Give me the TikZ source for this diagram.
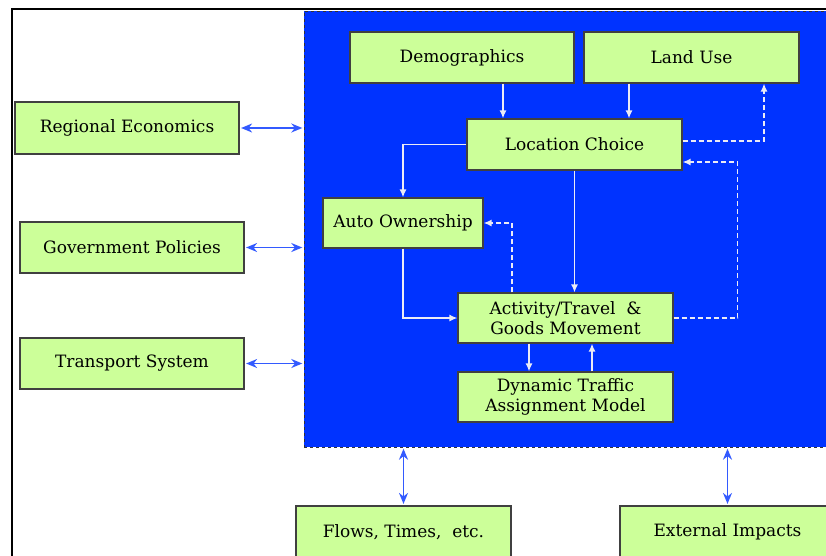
\documentclass[tikz,border=0pt]{standalone}
\usepackage{fontspec}
\setmainfont{DejaVu Serif}
\usetikzlibrary{positioning,arrows.meta}
\definecolor{boxgreen}{RGB}{204,255,153}
\definecolor{panelblue}{RGB}{0,51,255}
\definecolor{linkblue}{RGB}{51,90,255}
\definecolor{flowwhite}{RGB}{235,235,245}
\tikzset{>={Latex[length=8pt,width=7pt]},
	box/.style={draw=black!75, fill=boxgreen, line width=1.2pt, inner sep=0pt, align=center, font=\fontsize{17}{20}\selectfont},
	link/.style={{Stealth[length=11pt,width=9pt]}-{Stealth[length=11pt,width=9pt]}, linkblue, line width=1.6pt, shorten >=1.5pt, shorten <=1.5pt},
	flow/.style={->, flowwhite, line width=1.4pt},
	feedback/.style={flow, dash pattern=on 5pt off 3pt}}

\begin{document}
\begin{tikzpicture}[x=1pt,y=-1pt]
	\useasboundingbox (0,0) rectangle (826,555);
	\clip (0,0) rectangle (826,555);
	\draw [line width=2pt] (12,590) -- (12,9) -- (860,9);
	% the model panel
	\node [draw=black!80, dashed, fill=panelblue, minimum width=546pt, minimum height=436pt, inner sep=0pt] (model) at (577,229) {};
	% outside boxes
	\node [box, minimum width=224pt, minimum height=52pt] (regecon) at (127,128) {Regional Economics};
	\node [box, minimum width=224pt, minimum height=51pt] (govpol) at (132,247.5) {Government Policies};
	\node [box, minimum width=224pt, minimum height=51pt] (transys) at (132,363.5) {Transport System};
	\node [box, minimum width=215pt, minimum height=52pt] (flows) at (403.5,532) {Flows, Times,\ \ etc.};
	\node [box, minimum width=215pt, minimum height=52pt] (extimp) at (727.5,532) {External Impacts};
	% inside boxes
	\node [box, minimum width=224pt, minimum height=51pt] (demog) at (462,57.5) {Demographics};
	\node [box, minimum width=215pt, minimum height=51pt] (landuse) at (691.5,57.5) {Land Use};
	\node [box, minimum width=215pt, minimum height=51pt] (locchoice) at (574.5,144.5) {Location Choice};
	\node [box, minimum width=160pt, minimum height=50pt] (autoown) at (403,223) {Auto Ownership};
	\node [box, minimum width=215pt, minimum height=50pt] (acttravel) at (565.5,318) {Activity/Travel\ \ \&\\Goods Movement};
	\node [box, minimum width=215pt, minimum height=50pt] (dta) at (565.5,397) {Dynamic Traffic\\Assignment Model};
	% links to the outside
	\draw [link] (regecon.east) -- (regecon.east -| model.west);
	\draw [link] (govpol.east) -- (govpol.east -| model.west);
	\draw [link] (transys.east) -- (transys.east -| model.west);
	\draw [link] (model.south -| flows.north) -- (flows.north);
	\draw [link] (model.south -| extimp.north) -- (extimp.north);
	% flows inside the model
	\draw [flow] ([xshift=41pt]demog.south) -- ([xshift=41pt]demog.south |- locchoice.north);
	\draw [flow] ([xshift=-62.5pt]landuse.south) -- ([xshift=-62.5pt]landuse.south |- locchoice.north);
	\draw [flow] (locchoice.west) -| (autoown.north);
	\draw [flow] (locchoice.south) -- (locchoice.south |- acttravel.north);
	\draw [flow] (autoown.south) |- (acttravel.west);
	\draw [flow] ([xshift=-36.5pt]acttravel.south) -- ([xshift=-36.5pt]dta.north);
	\draw [flow] ([xshift=26.5pt]dta.north) -- ([xshift=26.5pt]acttravel.south);
	% feedback
	\draw [feedback] ([yshift=3.5pt]locchoice.east) -| ([xshift=72.5pt]landuse.south);
	\draw [feedback] (acttravel.east) -- ++(64,0) |- ([yshift=-17.5pt]locchoice.east);
	\draw [feedback] ([xshift=-53.5pt]acttravel.north) |- (autoown.east);
\end{tikzpicture}
\end{document}
